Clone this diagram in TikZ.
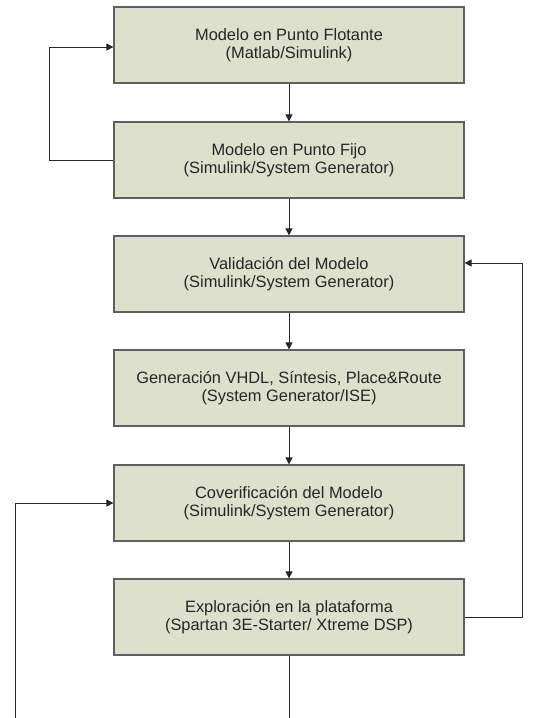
\documentclass[tikz,border=0pt]{standalone}
\usepackage{fontspec}
\setmainfont{Liberation Sans}
\usetikzlibrary{arrows.meta}
\definecolor{blkfill}{RGB}{221,224,203}
\definecolor{blkdraw}{RGB}{95,95,95}
\begin{document}
\begin{tikzpicture}[x=1pt, y=-1pt,
  blk/.style={draw=blkdraw, line width=1.2pt, fill=blkfill, minimum width=350pt, minimum height=76pt,
    inner sep=0pt, align=center, text=black!85, font=\fontsize{16.4}{17.8}\selectfont},
  arr/.style={-{Triangle[length=7pt,width=7pt]}, line width=0.8pt, black!85},
  lin/.style={line width=0.8pt, black!85}]
\useasboundingbox (0,0) rectangle (534,718);
\node[blk] (blk0) at (289,45){Modelo en Punto Flotante\\(Matlab/Simulink)};
\node[blk] (blk1) at (289,160){Modelo en Punto Fijo\\(Simulink/System Generator)};
\node[blk] (blk2) at (289,274){Validación del Modelo\\(Simulink/System Generator)};
\node[blk] (blk3) at (289,388){Generación VHDL, Síntesis, Place\&Route\\(System Generator/ISE)};
\node[blk] (blk4) at (289,503){Coverificación del Modelo\\(Simulink/System Generator)};
\node[blk] (blk5) at (289,617){Exploración en la plataforma\\(Spartan 3E-Starter/ Xtreme DSP)};
\coordinate (cin) at (15,718);
\coordinate (cout) at (289,718);
\draw[arr](blk0) -- (blk1);
\draw[arr](blk1) -- (blk2);
\draw[arr](blk2) -- (blk3);
\draw[arr](blk3) -- (blk4);
\draw[arr](blk4) -- (blk5);
\draw[arr](blk1.west) -- ++(-64,0) |- ([yshift=-2pt]blk0.west);
\draw[arr](blk5.east) -- ++(58,0) |- ([yshift=11pt]blk2.east);
\draw[arr](cin) |- (blk4.west);
\draw[lin](blk5) -- (cout);
\end{tikzpicture}
\end{document}
